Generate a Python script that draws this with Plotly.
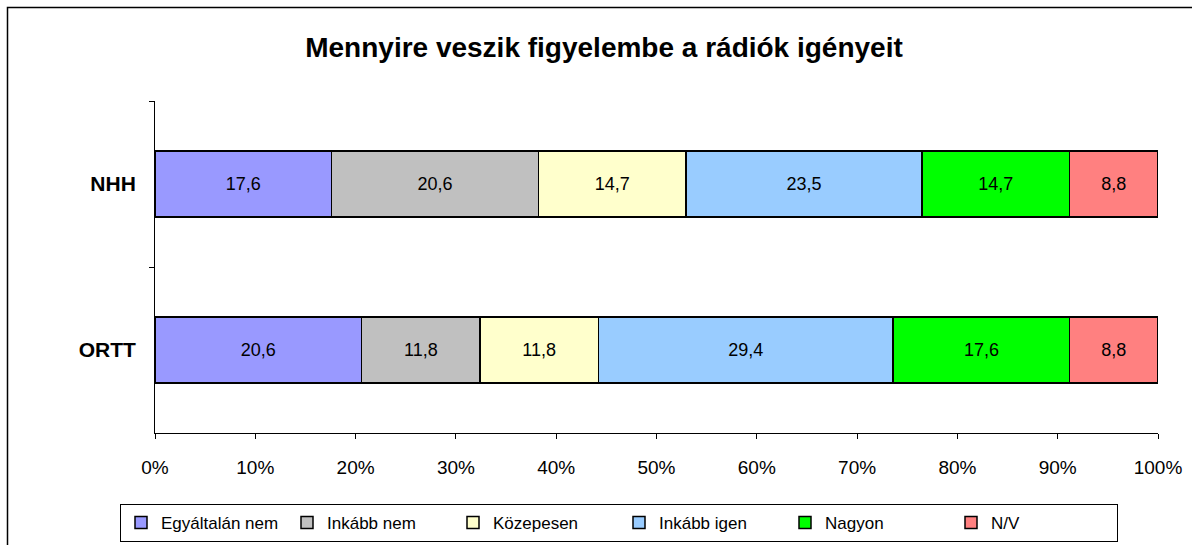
import plotly.graph_objects as go

categories = ["NHH", "ORTT"]
series_names = ["Egyáltalán nem", "Inkább nem", "Közepesen", "Inkább igen", "Nagyon", "N/V"]
values = {
    "Egyáltalán nem": [17.6, 20.6],
    "Inkább nem": [20.6, 11.8],
    "Közepesen": [14.7, 11.8],
    "Inkább igen": [23.5, 29.4],
    "Nagyon": [14.7, 17.6],
    "N/V": [8.8, 8.8],
}
colors = {
    "Egyáltalán nem": "#9999FF",
    "Inkább nem": "#C0C0C0",
    "Közepesen": "#FFFFCC",
    "Inkább igen": "#99CCFF",
    "Nagyon": "#00FF00",
    "N/V": "#FF8080",
}
x_ticks = list(range(0, 101, 10))

FONT = "Liberation Sans, Arial, sans-serif"
W, H = 1192, 545
L, R, T, B = 155, 34, 101, 112

fig = go.Figure()
for name in series_names:
    vals = values[name]
    fig.add_trace(go.Bar(
        y=categories, x=vals, name=name, orientation="h",
        marker=dict(color=colors[name], line=dict(color="black", width=1.5)),
        text=[f"{v:.1f}".replace(".", ",") for v in vals],
        textposition="inside", insidetextanchor="middle",
        textfont=dict(family=FONT, size=18, color="black"),
        hoverinfo="skip",
    ))

pw = W - L - R
ph = H - T - B
def px2x(p):
    return (p - L) / pw
def py2y(p):
    return (H - B - p) / ph

fig.update_layout(
    width=W, height=H,
    margin=dict(l=L, r=R, t=T, b=B, autoexpand=False),
    barmode="stack", barnorm="percent", bargap=0.6,
    plot_bgcolor="white", paper_bgcolor="white",
    font=dict(family=FONT, size=17, color="black"),
    title=dict(text="<b>Mennyire veszik figyelembe a rádiók igényeit</b>",
               x=604 / W, xanchor="center", y=1 - 47 / H, yanchor="middle",
               yref="container", xref="container",
               font=dict(family=FONT, size=28, color="black")),
    xaxis=dict(range=[0, 100], tickvals=x_ticks, ticktext=[f"{t}%" for t in x_ticks],
               showgrid=False, zeroline=False, showline=True, linecolor="black", linewidth=1,
               ticks="outside", ticklen=5, tickcolor="black", ticklabelstandoff=12,
               tickfont=dict(family=FONT, size=19, color="black")),
    yaxis=dict(categoryorder="array", categoryarray=categories, autorange="reversed",
               showgrid=False, zeroline=False, showline=True, linecolor="black", linewidth=1,
               ticks="outside", ticklen=5, tickcolor="black", tickson="boundaries",
               ticklabelstandoff=14,
               tickfont=dict(family=FONT, size=21, color="black", weight="bold")),
    showlegend=True,
    legend=dict(orientation="h", x=px2x(120), xanchor="left", y=py2y(504), yanchor="top",
                bordercolor="black", borderwidth=1, entrywidth=121,
                font=dict(family=FONT, size=17, color="black"),
                traceorder="normal", itemclick=False, itemdoubleclick=False),
    shapes=[dict(type="rect", xref="paper", yref="paper",
                 x0=px2x(7.5), x1=px2x(1200), y0=py2y(560), y1=py2y(7.5),
                 line=dict(color="black", width=1.5), fillcolor="rgba(0,0,0,0)", layer="below")],
)

fig.write_html("out.html", config={"displayModeBar": False},
               post_script="document.body.style.margin='0px';")
